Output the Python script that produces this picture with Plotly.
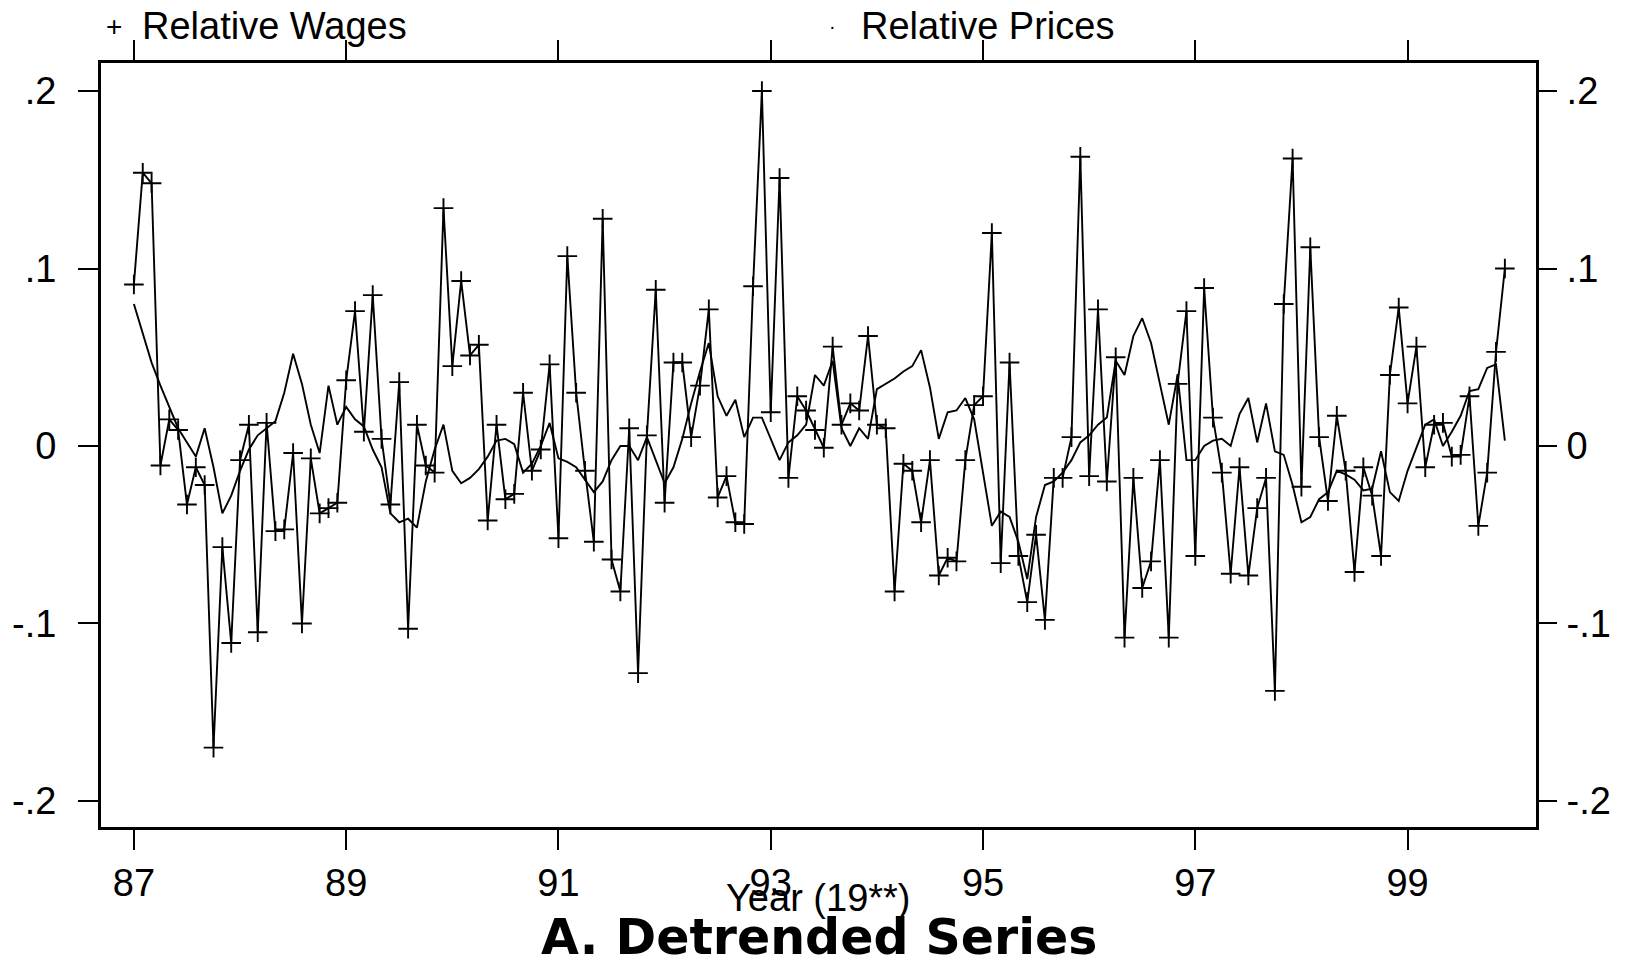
import plotly.graph_objects as go

# ---- data (monthly, Jan 1987 .. Dec 1999) ----
start_year = 87
n_months = 156

relative_wages = [
    0.091, 0.154, 0.148, -0.011, 0.015, 0.009, -0.033, -0.012, -0.022, -0.170, -0.057, -0.111,
    -0.008, 0.012, -0.105, 0.013, -0.048, -0.047, -0.004, -0.100, -0.007, -0.038, -0.035, -0.032,
    0.037, 0.076, 0.008, 0.085, 0.004, -0.033, 0.036, -0.103, 0.012, -0.011, -0.015, 0.134,
    0.045, 0.093, 0.051, 0.057, -0.042, 0.012, -0.030, -0.027, 0.030, -0.014, -0.002, 0.046,
    -0.052, 0.107, 0.030, -0.014, -0.054, 0.128, -0.064, -0.082, 0.010, -0.128, 0.006, 0.088,
    -0.032, 0.047, 0.047, 0.005, 0.034, 0.077, -0.029, -0.017, -0.043, -0.044, 0.090, 0.200,
    0.019, 0.151, -0.018, 0.028, 0.020, 0.009, -0.001, 0.056, 0.012, 0.024, 0.020, 0.062,
    0.012, 0.010, -0.082, -0.010, -0.014, -0.043, -0.008, -0.073, -0.063, -0.065, -0.008, 0.023,
    0.028, 0.120, -0.066, 0.047, -0.062, -0.088, -0.050, -0.098, -0.018, -0.018, 0.005, 0.163,
    -0.017, 0.077, -0.020, 0.050, -0.108, -0.018, -0.080, -0.065, -0.008, -0.108, 0.035, 0.076,
    -0.062, 0.089, 0.016, -0.015, -0.072, -0.012, -0.073, -0.035, -0.018, -0.138, 0.080, 0.162,
    -0.023, 0.112, 0.005, -0.031, 0.017, -0.014, -0.071, -0.012, -0.028, -0.062, 0.040, 0.078,
    0.024, 0.056, -0.012, 0.012, 0.013, -0.006, -0.005, 0.028, -0.045, -0.015, 0.053, 0.100,
]

relative_prices = [
    0.080, 0.063, 0.047, 0.034, 0.022, 0.010, 0.002, -0.006, 0.010, -0.012, -0.038, -0.028,
    -0.014, -0.002, 0.006, 0.010, 0.014, 0.030, 0.052, 0.035, 0.012, -0.004, 0.034, 0.012,
    0.022, 0.015, 0.011, -0.002, -0.012, -0.038, -0.043, -0.041, -0.046, -0.020, -0.002, 0.012,
    -0.014, -0.021, -0.018, -0.013, -0.006, 0.003, 0.004, 0.001, -0.015, -0.010, 0.000, 0.013,
    -0.007, -0.009, -0.012, -0.019, -0.026, -0.020, -0.008, 0.000, 0.000, -0.008, 0.005, -0.008,
    -0.021, -0.012, 0.004, 0.024, 0.042, 0.058, 0.028, 0.017, 0.026, 0.005, 0.016, 0.016,
    0.004, -0.008, 0.002, 0.006, 0.012, 0.040, 0.034, 0.048, 0.010, 0.000, 0.010, 0.004,
    0.032, 0.035, 0.038, 0.042, 0.045, 0.054, 0.033, 0.004, 0.019, 0.020, 0.027, 0.015,
    -0.015, -0.045, -0.037, -0.040, -0.054, -0.075, -0.040, -0.022, -0.020, -0.015, -0.008, 0.002,
    0.006, 0.012, 0.016, 0.048, 0.040, 0.062, 0.072, 0.058, 0.035, 0.012, 0.040, -0.008,
    -0.008, 0.000, 0.003, 0.004, 0.000, 0.018, 0.027, 0.002, 0.024, -0.003, -0.005, -0.022,
    -0.043, -0.040, -0.030, -0.026, -0.014, -0.016, -0.019, -0.025, -0.024, -0.003, -0.026, -0.031,
    -0.014, -0.001, 0.012, 0.015, 0.000, 0.008, 0.017, 0.031, 0.032, 0.044, 0.046, 0.003,
]

x_tick_vals = [87, 89, 91, 93, 95, 97, 99]
x_tick_text = ["87", "89", "91", "93", "95", "97", "99"]
y_tick_vals = [0.2, 0.1, 0.0, -0.1, -0.2]
y_tick_text = [".2", ".1", "0", "-.1", "-.2"]

years = [start_year + m / 12.0 for m in range(n_months)]

FONT = "Liberation Sans, Arial, sans-serif"
BLACK = "#000000"

fig = go.Figure()
fig.add_trace(go.Scatter(
    x=years, y=relative_wages, mode="lines+markers", name="Relative Wages",
    line=dict(color=BLACK, width=1.9),
    marker=dict(symbol="cross-thin", size=14, color=BLACK, line=dict(color=BLACK, width=1.9)),
))
fig.add_trace(go.Scatter(
    x=years, y=relative_prices, mode="lines", name="Relative Prices",
    line=dict(color=BLACK, width=1.9),
))
# helper trace so the right axis is drawn
fig.add_trace(go.Scatter(
    x=[years[0]], y=[0], yaxis="y2", mode="markers",
    marker=dict(opacity=0), hoverinfo="skip", showlegend=False,
))

yr = [-0.2147, 0.2158]
fig.update_layout(
    width=1627, height=964,
    margin=dict(l=101, r=91, t=63, b=137),
    paper_bgcolor="white", plot_bgcolor="white",
    showlegend=False,
    font=dict(family=FONT, color=BLACK),
    xaxis=dict(
        range=[86.69, 100.21], tickvals=x_tick_vals, ticktext=x_tick_text,
        ticks="outside", ticklen=20, tickwidth=2, tickcolor=BLACK,
        showline=True, linewidth=3, linecolor=BLACK, mirror="allticks",
        showgrid=False, zeroline=False,
        tickfont=dict(family=FONT, size=38, color=BLACK),
    ),
    yaxis=dict(
        range=yr, tickvals=y_tick_vals, ticktext=y_tick_text,
        ticks="outside", ticklen=20, tickwidth=2, tickcolor=BLACK,
        showline=True, linewidth=3, linecolor=BLACK, mirror=True,
        showgrid=False, zeroline=False, ticklabelstandoff=14,
        tickfont=dict(family=FONT, size=38, color=BLACK),
    ),
    yaxis2=dict(
        range=yr, tickvals=y_tick_vals, ticktext=y_tick_text,
        overlaying="y", side="right",
        ticks="outside", ticklen=20, tickwidth=2, tickcolor=BLACK,
        showline=False, showgrid=False, zeroline=False, ticklabelstandoff=2,
        tickfont=dict(family=FONT, size=38, color=BLACK),
    ),
)

ann = []
# legend entries drawn above the plot frame
ann.append(dict(text="+", x=0.0091, y=1, xref="paper", yref="paper", xanchor="center",
                yanchor="middle", yshift=37, showarrow=False, font=dict(family=FONT, size=28, color=BLACK)))
ann.append(dict(text="Relative Wages", x=0.0272, y=1, xref="paper", yref="paper", xanchor="left",
                yanchor="middle", yshift=37, showarrow=False, font=dict(family=FONT, size=38, color=BLACK)))
ann.append(dict(text="·", x=0.510, y=1, xref="paper", yref="paper", xanchor="center",
                yanchor="middle", yshift=37, showarrow=False, font=dict(family=FONT, size=20, color=BLACK)))
ann.append(dict(text="Relative Prices", x=0.528, y=1, xref="paper", yref="paper", xanchor="left",
                yanchor="middle", yshift=37, showarrow=False, font=dict(family=FONT, size=38, color=BLACK)))
# axis title and chart caption
ann.append(dict(text="Year (19**)", x=0.5, y=0, xref="paper", yref="paper", xanchor="center",
                yanchor="middle", yshift=-71, showarrow=False, font=dict(family=FONT, size=38, color=BLACK)))
ann.append(dict(text="<b>A. Detrended Series</b>", x=0.5, y=0, xref="paper", yref="paper", xanchor="center",
                yanchor="middle", yshift=-110, showarrow=False,
                font=dict(family="DejaVu Sans, sans-serif", size=49, color=BLACK)))
fig.update_layout(annotations=ann)

fig.write_html("out.html")
